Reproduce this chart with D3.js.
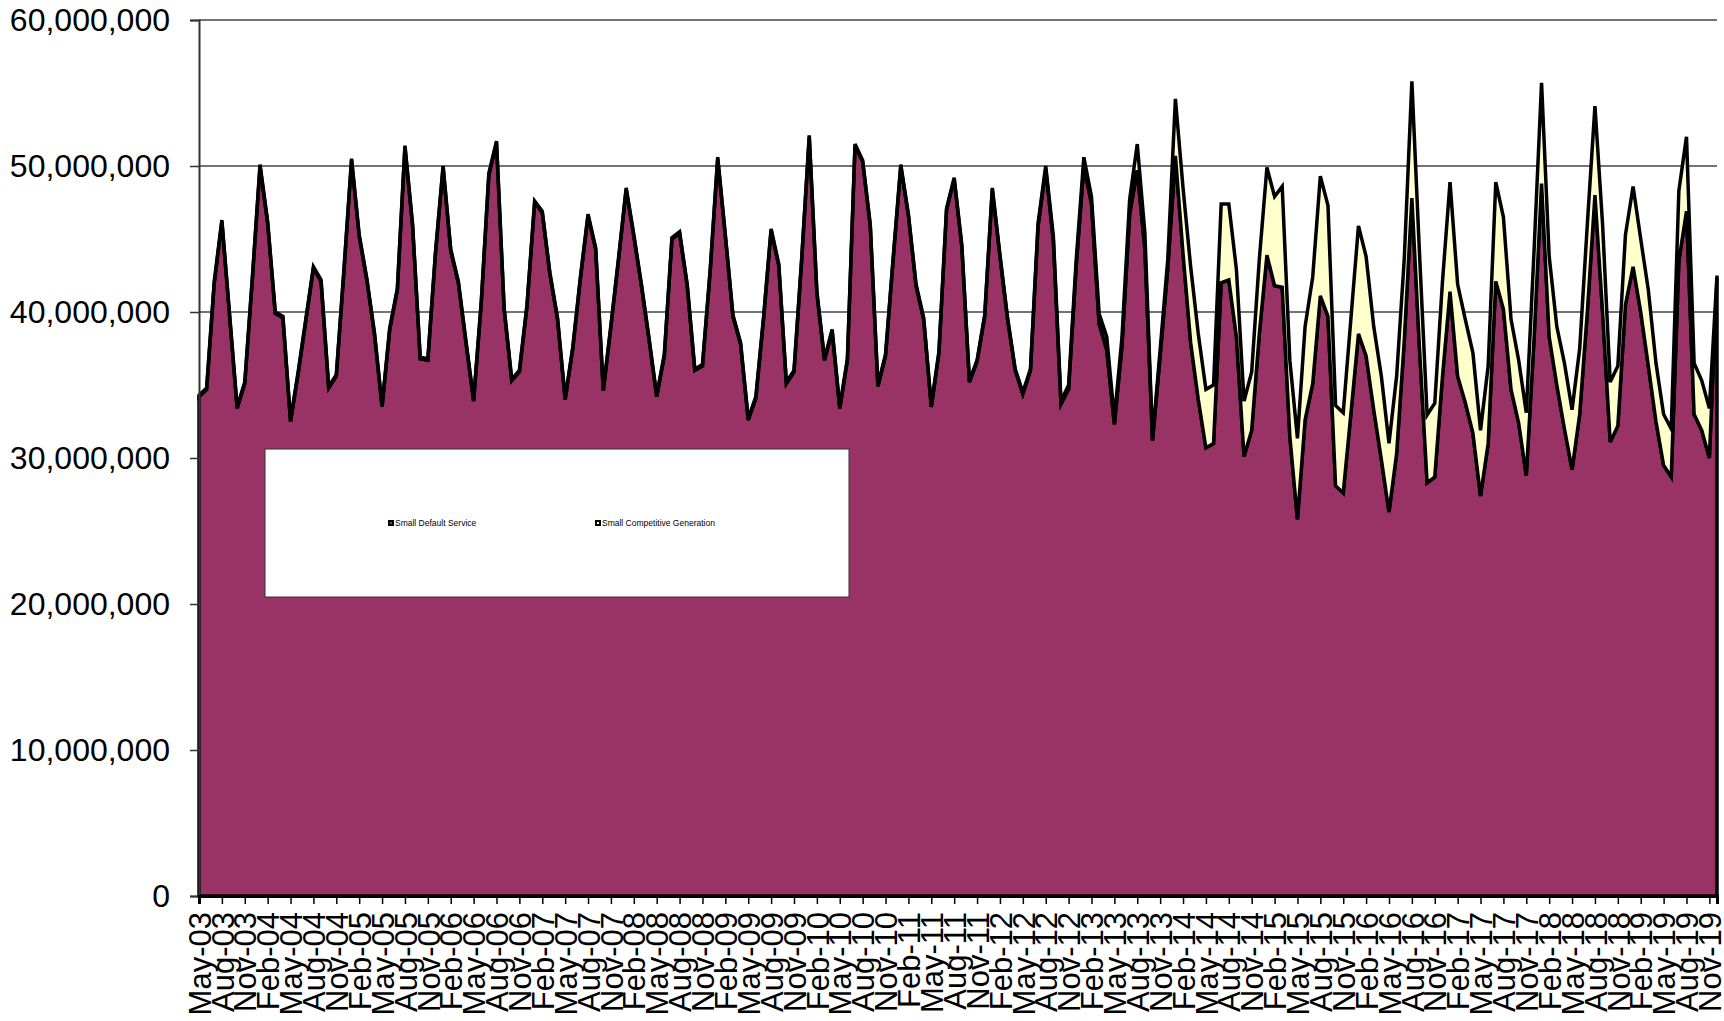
<!DOCTYPE html>
<html>
<head>
<meta charset="utf-8">
<script src="https://cdn.jsdelivr.net/npm/d3@7"></script>
<style>
  body { margin: 0; background: #fff; }
  text { font-family: "Liberation Sans", Arial, sans-serif; }
</style>
</head>
<body>
<svg id="chart"></svg>
<script>
// monthly volumes in millions, May-03 .. Dec-19
const months = d3.timeMonth.range(new Date(2003, 4, 1), new Date(2020, 0, 1));

const smallDefault = [
  34.2, 34.7, 42.0, 46.2, 39.8, 33.4, 35.1, 42.3, 50.0, 46.1,
  39.9, 39.6, 32.5, 35.8, 39.4, 43.0, 42.1, 34.8, 35.6, 42.8,
  50.4, 45.2, 42.2, 38.5, 33.5, 38.8, 41.5, 51.3, 45.9, 36.8,
  36.7, 44.0, 49.9, 44.2, 42.0, 37.9, 33.9, 40.6, 49.4, 51.6,
  40.2, 35.3, 35.9, 40.4, 47.5, 46.8, 42.6, 39.5, 34.0, 37.5,
  42.3, 46.6, 44.3, 34.6, 39.0, 43.6, 48.4, 45.2, 41.8, 38.1,
  34.2, 37.0, 45.0, 45.4, 41.8, 36.0, 36.3, 42.7, 50.5, 45.2,
  39.7, 37.8, 32.6, 34.1, 39.5, 45.6, 43.2, 35.1, 35.9, 43.5,
  52.0, 41.3, 36.7, 38.7, 33.4, 36.7, 51.4, 50.3, 45.9, 34.9,
  37.0, 43.6, 50.0, 46.6, 41.8, 39.5, 33.5, 37.2, 47.0, 49.1,
  44.5, 35.2, 36.6, 39.7, 48.4, 43.8, 39.5, 36.0, 34.4, 36.0,
  45.9, 49.8, 44.9, 33.7, 34.7, 43.2, 50.0, 47.4, 39.2, 37.4,
  32.3, 37.7, 46.7, 49.7, 44.3, 31.2, 37.0, 43.0, 50.7, 44.0,
  37.9, 34.0, 30.7, 31.0, 42.0, 42.2, 38.3, 30.1, 31.9, 38.5,
  43.9, 41.8, 41.7, 31.5, 25.8, 32.6, 35.1, 41.1, 39.7, 28.1,
  27.6, 33.0, 38.5, 37.0, 33.3, 29.9, 26.3, 30.3, 38.0, 47.8,
  37.5, 28.3, 28.7, 35.5, 41.4, 35.6, 33.8, 31.7, 27.4, 31.0,
  42.1, 40.2, 34.7, 32.4, 28.8, 38.0, 48.8, 38.3, 35.0, 32.0,
  29.2, 33.0, 40.0, 48.0, 40.0, 31.1, 32.2, 40.5, 43.1, 40.0,
  36.3, 32.5, 29.5, 28.7, 43.5, 46.9, 33.0, 31.9, 30.0, 42.3
];

const smallCompetitive = [
  0.1, 0.1, 0.1, 0.1, 0.1, 0.1, 0.1, 0.1, 0.1, 0.1,
  0.1, 0.1, 0.1, 0.1, 0.1, 0.1, 0.1, 0.1, 0.1, 0.1,
  0.1, 0.1, 0.1, 0.1, 0.1, 0.1, 0.1, 0.1, 0.1, 0.1,
  0.1, 0.1, 0.1, 0.1, 0.1, 0.1, 0.1, 0.1, 0.1, 0.1,
  0.1, 0.1, 0.1, 0.1, 0.1, 0.1, 0.1, 0.1, 0.1, 0.1,
  0.1, 0.1, 0.1, 0.1, 0.1, 0.1, 0.1, 0.1, 0.1, 0.1,
  0.1, 0.1, 0.1, 0.1, 0.1, 0.1, 0.1, 0.1, 0.1, 0.1,
  0.1, 0.1, 0.1, 0.1, 0.1, 0.1, 0.1, 0.1, 0.1, 0.1,
  0.1, 0.1, 0.1, 0.1, 0.1, 0.1, 0.1, 0.1, 0.1, 0.1,
  0.1, 0.1, 0.1, 0.1, 0.1, 0.1, 0.1, 0.1, 0.1, 0.1,
  0.1, 0.1, 0.1, 0.1, 0.1, 0.1, 0.1, 0.1, 0.1, 0.1,
  0.2, 0.2, 0.3, 0.2, 0.3, 0.4, 0.6, 0.5, 0.7, 0.9,
  0.4, 0.6, 1.0, 1.8, 1.1, 0.15, 0.4, 0.6, 3.9, 4.5,
  5.2, 4.5, 4.0, 4.0, 5.4, 5.2, 4.6, 3.8, 4.0, 5.1,
  6.0, 6.1, 6.9, 5.2, 5.55, 6.4, 7.3, 8.2, 7.6, 5.5,
  5.5, 6.5, 7.4, 6.8, 5.7, 5.7, 4.7, 5.3, 5.6, 8.0,
  6.5, 4.65, 5.05, 6.5, 7.5, 6.3, 5.7, 5.5, 4.5, 5.3,
  6.8, 6.3, 4.8, 4.3, 4.3, 6.0, 6.9, 5.5, 4.0, 4.5,
  4.1, 4.5, 6.0, 6.1, 6.0, 4.1, 4.1, 4.8, 5.5, 5.0,
  5.2, 4.0, 3.5, 3.3, 4.8, 5.1, 3.5, 3.4, 3.4, 0.2
];

const seriesNames = ["Small Default Service", "Small Competitive Generation"];
const seriesColors = ["#993366", "#FFFFCC"];
const yTicks = [0, 10e6, 20e6, 30e6, 40e6, 50e6, 60e6];

const width = 1724, height = 1021;
const plot = { left: 199, right: 1717, top: 20, bottom: 896 };

const svg = d3.select("#chart")
  .attr("width", width)
  .attr("height", height)
  .style("background", "#fff");

const fmtMonth = d3.timeFormat("%b-%y");
const rows = months.map((m, i) => ({
  month: fmtMonth(m),
  def: smallDefault[i] * 1e6,
  comp: smallCompetitive[i] * 1e6
}));

const x = d3.scalePoint()
  .domain(rows.map(d => d.month))
  .range([plot.left, plot.right]);

const y = d3.scaleLinear()
  .domain([0, 60e6])
  .range([plot.bottom, plot.top]);

// gridlines
svg.append("g")
  .selectAll("line")
  .data(yTicks.slice(1))
  .enter()
  .append("line")
  .attr("x1", plot.left)
  .attr("x2", plot.right)
  .attr("y1", d => y(d))
  .attr("y2", d => y(d))
  .attr("stroke", "#444")
  .attr("stroke-width", 1.5);

const stacked = d3.stack().keys(["def", "comp"])(rows);

const area = d3.area()
  .x(d => x(d.data.month))
  .y0(d => y(d[0]))
  .y1(d => y(d[1]));

svg.append("g")
  .selectAll("path")
  .data(stacked)
  .enter()
  .append("path")
  .attr("d", d => area(d))
  .attr("fill", (d, i) => seriesColors[i])
  .attr("stroke", "#000")
  .attr("stroke-width", 3.5)
  .attr("stroke-linejoin", "miter");

// y axis
const yAxis = d3.axisLeft(y)
  .tickValues(yTicks)
  .tickFormat(d3.format(","))
  .tickSize(9)
  .tickPadding(20);

const gy = svg.append("g")
  .attr("transform", `translate(${plot.left},0)`)
  .call(yAxis);
gy.select(".domain").attr("stroke", "#333").attr("stroke-width", 2);
gy.selectAll(".tick line").attr("stroke", "#333").attr("stroke-width", 1.5);
gy.selectAll("text").attr("font-size", 32).attr("fill", "#000");

// x axis, a label every third month
const xAxis = d3.axisBottom(x)
  .tickValues(rows.map(d => d.month).filter((d, i) => i % 3 === 0))
  .tickSize(8);

const gx = svg.append("g")
  .attr("transform", `translate(0,${plot.bottom})`)
  .call(xAxis);
gx.select(".domain").attr("stroke", "#000").attr("stroke-width", 3);
gx.selectAll(".tick line").attr("stroke", "#000").attr("stroke-width", 1.5);
gx.selectAll("text")
  .attr("font-size", 31)
  .attr("fill", "#000")
  .attr("transform", "rotate(-90)")
  .attr("text-anchor", "end")
  .attr("x", -16)
  .attr("y", 0)
  .attr("dy", "0.36em");

// legend
const legend = svg.append("g");
legend.append("rect")
  .attr("x", 265)
  .attr("y", 449)
  .attr("width", 584)
  .attr("height", 148)
  .attr("fill", "#fff")
  .attr("stroke", "#333")
  .attr("stroke-width", 1);

const legendX = [388, 595];
seriesNames.forEach((name, i) => {
  legend.append("rect")
    .attr("x", legendX[i])
    .attr("y", 520)
    .attr("width", 6)
    .attr("height", 6)
    .attr("fill", "#000");
  legend.append("rect")
    .attr("x", legendX[i] + 2)
    .attr("y", 522)
    .attr("width", 2)
    .attr("height", 2)
    .attr("fill", seriesColors[i]);
  legend.append("text")
    .attr("x", legendX[i] + 7)
    .attr("y", 526)
    .attr("font-size", 8.5)
    .attr("fill", "#000")
    .text(name);
});
</script>
</body>
</html>
